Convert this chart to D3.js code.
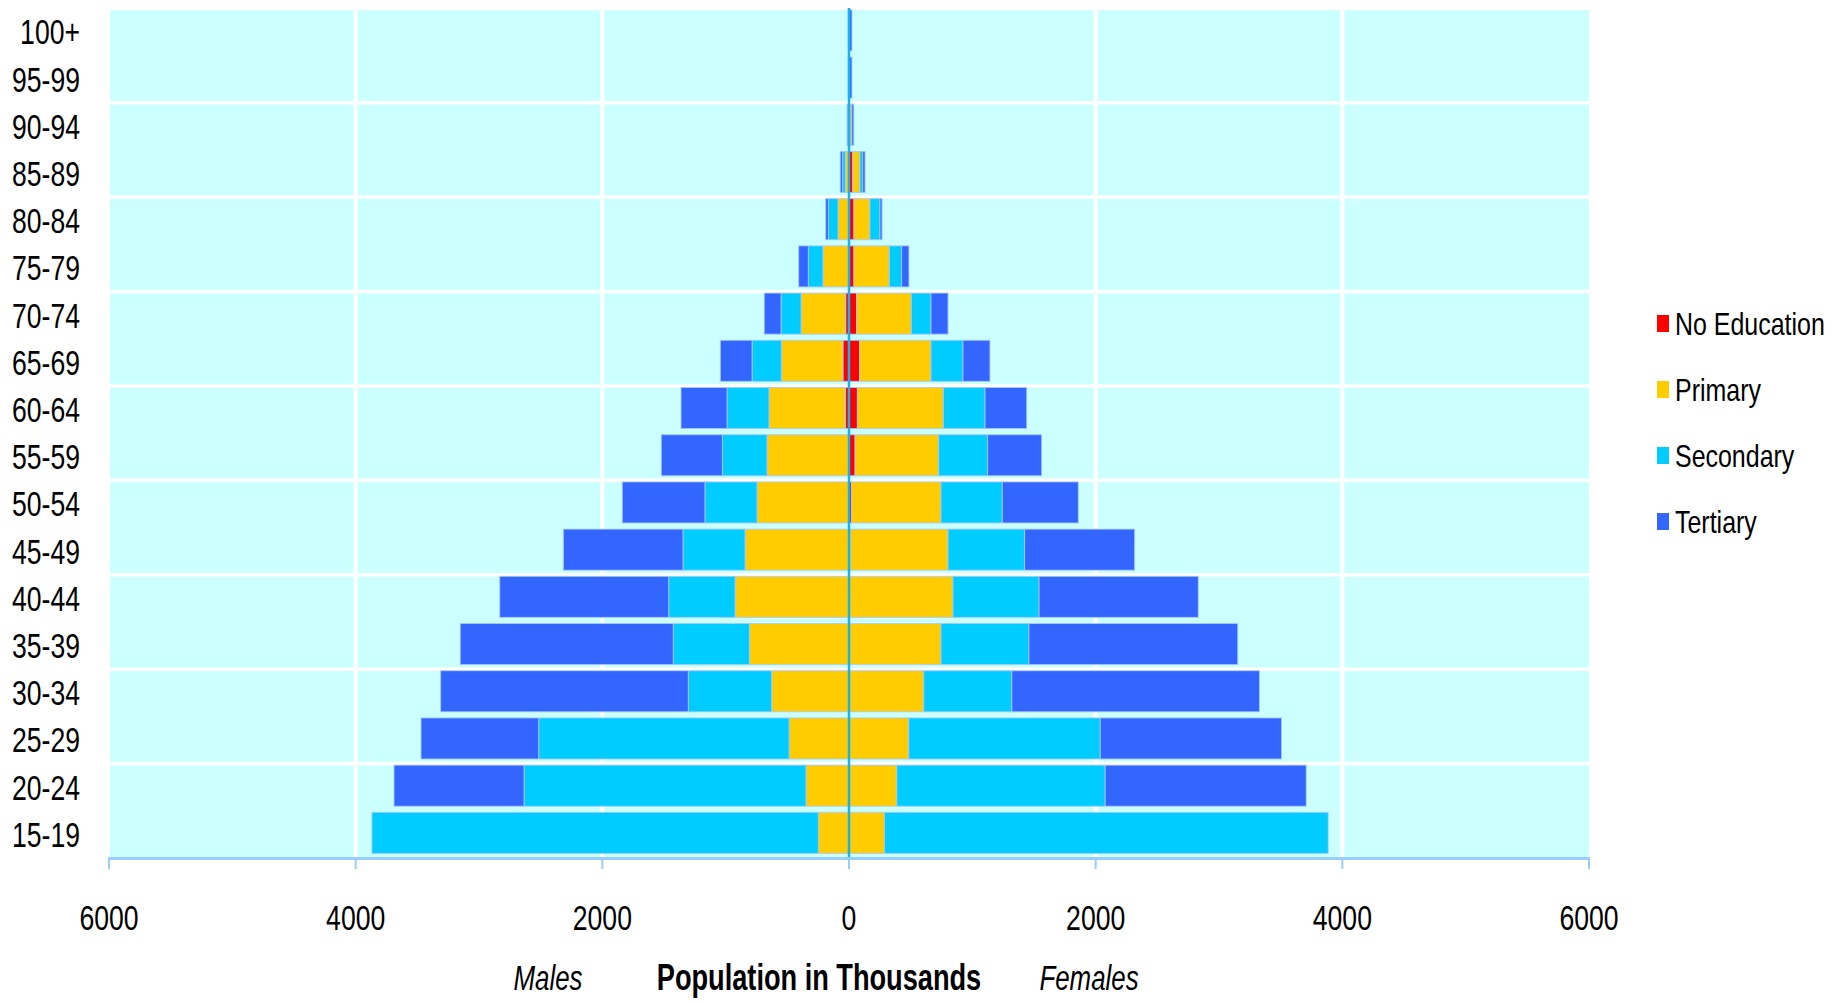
<!DOCTYPE html>
<html>
<head>
<meta charset="utf-8">
<script src="https://cdn.jsdelivr.net/npm/d3@7"></script>
<style>
  html, body { margin: 0; padding: 0; background: #ffffff; }
  svg { display: block; }
  text { font-family: "Liberation Sans", Arial, sans-serif; fill: #000; }
</style>
</head>
<body>
<svg id="chart" width="1845" height="1003"></svg>
<script>
// ---------- DATA (population in thousands) ----------
const ageGroups = ["15-19","20-24","25-29","30-34","35-39","40-44","45-49","50-54","55-59",
                   "60-64","65-69","70-74","75-79","80-84","85-89","90-94","95-99","100+"];
const seriesNames = ["No Education","Primary","Secondary","Tertiary"];

const maleNoEducation = [0,0,0,0,0,0,0,0,0,30,49,27,0,0,0,0,0,0];
const malePrimary     = [249,349,486,627,808,924,843,746,665,619,500,362,211,89,30,4,0,0];
const maleSecondary   = [3619,2286,2030,676,617,538,503,422,362,340,237,162,119,78,22,4,2,2];
const maleTertiary    = [0,1054,954,2008,1727,1370,970,670,495,373,257,136,78,22,19,8,5,5];

const femaleNoEducation = [0,0,0,0,2,3,10,20,49,68,85,62,40,40,30,3,0,0];
const femalePrimary     = [288,388,485,606,744,840,793,726,678,697,580,443,287,130,59,16,0,0];
const femaleSecondary   = [3597,1689,1552,714,713,698,621,497,397,338,259,160,100,81,22,4,4,4];
const femaleTertiary    = [0,1630,1470,2008,1693,1291,892,616,438,338,219,138,59,17,19,16,20,20];

const xTickValues = [-6000,-4000,-2000,0,2000,4000,6000];
const xGridValues = [-4000,-2000,2000,4000];

// ---------- STYLE ----------
const seriesColors = {"No Education":"#FF0000","Primary":"#FFCC00","Secondary":"#00CCFF","Tertiary":"#3366FF"};

const svg = d3.select("#chart");

const x = d3.scaleLinear().domain([-6000, 6000]).range([109, 1589]);
const y = d3.scaleBand().domain(ageGroups.slice().reverse())
  .range([6.75, 856.5]).paddingInner(0.13).paddingOuter(0.065);

const plotTop = 7, plotBottom = 858;

function narrowText(g, tx, ty, str, opts) {
  const t = g.append("text")
    .attr("transform", `translate(${tx},${ty}) scale(${opts.narrow || 0.76},1)`)
    .attr("text-anchor", opts.anchor || "start")
    .style("font-size", opts.size + "px")
    .text(str);
  if (opts.weight) t.style("font-weight", opts.weight);
  if (opts.italic) t.style("font-style", "italic");
  return t;
}

// plot background
svg.append("rect")
  .attr("x", x(-6000) + 1).attr("y", plotTop)
  .attr("width", x(6000) - x(-6000) - 1).attr("height", plotBottom - plotTop)
  .attr("fill", "#CCFFFF");

// horizontal gridlines every two categories
const step = y.step();
const rangeTop = y.range()[0];
const hLines = d3.range(0, 9).map(k => rangeTop + 2 * k * step + 1.5);
svg.append("g").selectAll("line").data(hLines).join("line")
  .attr("x1", x(-6000)).attr("x2", x(6000))
  .attr("y1", d => d).attr("y2", d => d)
  .attr("stroke", "#FFFFFF").attr("stroke-width", 3.5);

// vertical gridlines
svg.append("g").selectAll("line").data(xGridValues).join("line")
  .attr("x1", d => x(d)).attr("x2", d => x(d))
  .attr("y1", plotTop).attr("y2", plotBottom)
  .attr("stroke", "#FFFFFF").attr("stroke-width", 4);

// build rows
const maleRows = ageGroups.map((a, i) => ({age: a,
  "No Education": maleNoEducation[i], "Primary": malePrimary[i],
  "Secondary": maleSecondary[i], "Tertiary": maleTertiary[i]}));
const femaleRows = ageGroups.map((a, i) => ({age: a,
  "No Education": femaleNoEducation[i], "Primary": femalePrimary[i],
  "Secondary": femaleSecondary[i], "Tertiary": femaleTertiary[i]}));

const stack = d3.stack().keys(seriesNames);
const maleStack = stack(maleRows);
const femaleStack = stack(femaleRows);

function drawSide(stacked, sign, cls) {
  svg.append("g").attr("class", cls)
    .selectAll("g").data(stacked).join("g")
    .attr("fill", d => seriesColors[d.key])
    .selectAll("rect").data(d => d.filter(p => p[1] - p[0] > 0)).join("rect")
    .attr("x", p => Math.min(x(sign * p[0]), x(sign * p[1])))
    .attr("width", p => Math.abs(x(sign * p[1]) - x(sign * p[0])))
    .attr("y", p => y(p.data.age))
    .attr("height", y.bandwidth())
    .attr("stroke", "rgba(170,200,255,0.85)")
    .attr("stroke-width", 1);
}
drawSide(maleStack, -1, "males");
drawSide(femaleStack, 1, "females");

// center line (value 0)
svg.append("line")
  .attr("x1", x(0)).attr("x2", x(0))
  .attr("y1", plotTop + 1).attr("y2", plotBottom)
  .attr("stroke", "#1AB2EE").attr("stroke-width", 2.5);

// x axis
const axisG = svg.append("g");
axisG.append("line")
  .attr("x1", x(-6000) - 1).attr("x2", x(6000) + 1)
  .attr("y1", plotBottom + 0.5).attr("y2", plotBottom + 0.5)
  .attr("stroke", "#99CCFF").attr("stroke-width", 3);
axisG.selectAll("line.tick").data(xTickValues).join("line")
  .attr("class", "tick")
  .attr("x1", d => x(d)).attr("x2", d => x(d))
  .attr("y1", plotBottom).attr("y2", plotBottom + 11)
  .attr("stroke", "#99CCFF").attr("stroke-width", 2);
xTickValues.forEach(v => {
  narrowText(axisG, x(v), 930, d3.format("d")(Math.abs(v)), {anchor: "middle", size: 35});
});

// category labels
const catG = svg.append("g");
ageGroups.forEach(a => {
  narrowText(catG, 80, y(a) + y.bandwidth() / 2 + 14, a, {anchor: "end", size: 35});
});

// axis titles
narrowText(svg, 548, 990, "Males", {anchor: "middle", size: 35, italic: true, narrow: 0.74});
narrowText(svg, 819, 990, "Population in Thousands", {anchor: "middle", size: 36, weight: "bold", narrow: 0.755});
narrowText(svg, 1089, 990, "Females", {anchor: "middle", size: 35, italic: true, narrow: 0.74});

// legend
const legG = svg.append("g");
seriesNames.forEach((s, i) => {
  const cy = 323.5 + i * 66;
  legG.append("rect").attr("x", 1657).attr("y", cy - 8.5)
    .attr("width", 12).attr("height", 17).attr("fill", seriesColors[s]);
  narrowText(legG, 1675, cy + 11.5, s, {anchor: "start", size: 32, narrow: 0.78});
});
</script>
</body>
</html>
